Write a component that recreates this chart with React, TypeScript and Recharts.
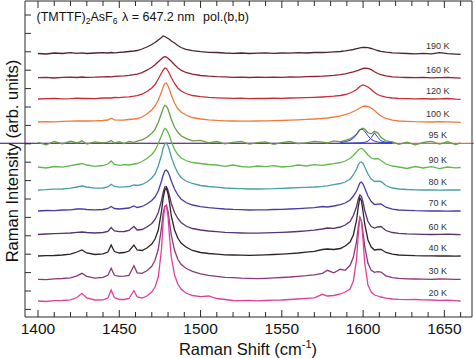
import React from 'react';
import { LineChart, Line, XAxis, YAxis, ReferenceDot, ReferenceLine } from 'recharts';

// Raman spectra of (TMTTF)2AsF6, stacked by temperature. Values are read off the
// picture as height above each spectrum's own baseline.

const X = [
  1400, 1405, 1410, 1415, 1420, 1424, 1427, 1430, 1435, 1440,
  1443, 1445, 1447, 1450, 1453, 1456, 1459, 1461, 1464, 1467,
  1470, 1472, 1474, 1476, 1477, 1478, 1479, 1480, 1481, 1482,
  1484, 1486, 1488, 1491, 1495, 1500, 1505, 1510, 1515, 1520,
  1525, 1530, 1535, 1540, 1545, 1550, 1555, 1560, 1565, 1570,
  1575, 1578, 1582, 1586, 1589, 1592, 1594, 1596, 1597, 1598,
  1599, 1600, 1601, 1603, 1605, 1607, 1609, 1611, 1614, 1618,
  1622, 1627, 1632, 1637, 1642, 1647, 1652, 1657, 1660,
];

const TEMPS = ['190 K', '160 K', '120 K', '100 K', '95 K', '90 K', '80 K', '70 K', '60 K', '40 K', '30 K', '20 K'];
const OFFSETS = [263.5, 239.3, 218, 195, 173.7, 149.5, 127, 106, 82.5, 61, 37.7, 16];
const COLORS = [
  '#4a2530', '#8c2433', '#c92c38', '#ef7a3c', '#6a9a4a', '#62b84c',
  '#4a9ea6', '#4b3aa5', '#5a3470', '#2e2226', '#8a3a78', '#e0409a',
];

const I190 = [
  0, -0.5, 0.5, 0, 0.8, 0.2, 0.6, 0, 0.5, 0.8,
  0.5, 1, 0.6, 1.2, 1.5, 2, 2.5, 3, 4.5, 6.5,
  9, 11, 13.5, 16, 17.5, 17, 16, 15, 14, 12.5,
  10.5, 8, 6, 4.2, 2.8, 1.8, 1.2, 1, 0.5, 0.2,
  0.5, 0, 0.3, 0.6, 0.2, 0.5, 0.3, 0.8, 0.5, 1,
  1, 1.2, 1.6, 2, 2.6, 3.4, 4, 4.8, 5.2, 5.6,
  5.8, 6, 6, 5.8, 5, 4, 3, 2.2, 1.4, 0.6,
  0.3, 0, -0.3, 0.2, -0.4, 0.8, -0.2, -0.6, -0.8,
];
const I160 = [
  0, 0.4, -0.3, 0.3, 0.5, 0.2, 0.7, 0.3, 0.5, 0.9,
  1, 0.8, 1.3, 1.5, 1.8, 2.3, 3, 3.6, 5, 7.5,
  10.5, 13, 16, 19, 20.3, 21, 20.5, 19.5, 18, 16.5,
  13, 10, 7.5, 5.2, 3.5, 2.2, 1.5, 1, 0.8, 0.4,
  0.6, 0.2, 0.5, 0.3, 0.6, 0.4, 0.8, 0.6, 1, 1.2,
  1.5, 1.8, 2.3, 3, 3.8, 5, 5.8, 6.8, 7.4, 8,
  8.6, 9.2, 9.5, 9.3, 8, 6, 4.2, 3, 1.8, 0.9,
  0.5, 0.2, 0, 0.3, -0.2, 0, 0.3, -0.2, -0.5,
];
const I120 = [
  0, 0.3, 0.6, 0.2, 0.4, 0.8, 0.5, 0.7, 0.4, 1,
  1.2, 1, 1.5, 1.3, 1.8, 2.2, 2.8, 3.4, 4.8, 7.5,
  11, 14.5, 20, 26, 29, 31, 30.5, 28, 25, 21.5,
  15.5, 11, 8, 5.5, 3.5, 2.3, 1.6, 1.2, 0.9, 0.6,
  0.8, 0.4, 0.6, 0.5, 0.8, 0.6, 1, 1.1, 1.3, 1.6,
  2, 2.3, 2.8, 3.5, 4.5, 6, 7.5, 9.5, 11, 12.5,
  13.5, 14, 13.5, 12, 9.5, 6.5, 4.5, 3, 1.8, 1,
  0.6, 0.4, 0.1, 0.4, 0, 0.2, 0.5, -0.1, -0.3,
];
const I100 = [
  0, 0.4, 0.2, 0.6, 0.8, 1, 1.2, 1, 1.2, 1.5,
  2, 3.8, 2.2, 1.8, 2, 2.5, 3, 3.5, 5, 8,
  12, 16, 22, 30, 35, 38.5, 39, 36, 32, 27,
  19, 13.5, 10, 7, 4.5, 3, 2.2, 1.6, 1.2, 1,
  0.9, 0.8, 1, 1.1, 1.3, 1.5, 1.8, 2.2, 2.6, 3,
  3.6, 4, 5, 6.2, 7.4, 9, 10.5, 12, 13, 14,
  15, 15.7, 16, 15.5, 14, 11.5, 8.5, 6, 3.5, 1.8,
  1, 0.6, 0.3, 0.2, 0, 0.3, 0.1, -0.2, -0.3,
];
const I95 = [
  1, -1.5, 1.8, -0.5, 2, 0.3, 2.5, -0.8, 1.5, 0.5,
  1.2, 2.8, 0.2, 1.5, -0.3, 1.8, 1, 2.2, 3.5, 6,
  10, 14, 21, 30, 35, 38, 37, 34, 29, 24,
  16, 11, 7.5, 5, 2.5, 3, 0.5, 1.8, -0.5, 1,
  2, -0.8, 0.7, 1.5, -1, 0.6, 1.8, -0.3, 0.5, 2,
  1.2, 0.3, 2.5, 1.5, 3, 4.5, 6.5, 9, 11.5, 13.5,
  14.5, 15, 14, 10.5, 9.5, 12, 10.5, 6, 2.5, 1.5,
  -1, 1.2, -1.5, 0.8, 2, -0.8, 1.5, -1.2, 0.5,
];
const I90 = [
  0.5, -0.5, 1, 0.3, 1.8, 3, 4, 2.5, 1.2, 2,
  3.5, 6.5, 3, 2.2, 2.8, 2.5, 3.5, 4, 6, 9,
  13, 17, 24, 32, 36, 39, 38, 35, 31, 26,
  18, 13, 9.5, 7, 5, 4, 3, 2.5, 1.2, 2.5,
  1, 0.3, 1.5, 0.8, 1.8, 0.5, 1.2, 2.5, 1.5, 2.8,
  2.2, 3, 3.8, 5, 6.5, 9, 12, 15.5, 17.5, 18.5,
  19, 18, 16.5, 12.5, 9.5, 8.5, 9, 7, 3.5, 1.5,
  0.5, -1, 1, -0.5, 0.8, -1.2, 0.5, -0.3, 0,
];
const I80 = [
  0, 0.3, 0.8, 1, 1.8, 3, 4, 3, 1.8, 2,
  3, 5.7, 3.5, 2.8, 3.2, 3.5, 5, 4.5, 5.5, 8,
  12, 16, 24, 35, 42, 46, 47, 44, 39, 33,
  24, 17, 12.5, 9, 6.5, 4.5, 3.5, 2.8, 2, 1.6,
  1.3, 1, 1, 1.2, 1.3, 1.6, 2, 2.3, 2.6, 3,
  3.6, 4.2, 5.3, 6.5, 8, 11, 15, 21, 25, 27.5,
  28, 26.5, 23, 16, 11, 8.5, 8.8, 8.5, 4.5, 2,
  1, 0.5, 0.2, 0, 0.2, -0.2, 0, 0.2, 0,
];
const I70 = [
  0, 0.5, 0.3, 1, 1.2, 2, 2.2, 1.5, 1.2, 1.5,
  2.5, 4.5, 2.5, 2, 2.5, 3, 5, 3.5, 4.5, 7,
  10.5, 14, 20, 30, 36, 40, 41, 39, 35, 30,
  22, 16, 12, 8.5, 6, 4.3, 3.3, 2.7, 2, 1.6,
  1.4, 1, 1.2, 1.1, 1.5, 1.7, 2, 2.4, 2.8, 3.3,
  4.5, 4, 5, 6.3, 8, 11, 15, 20, 24, 28,
  29, 27, 23, 15, 9.5, 6.5, 6.8, 7, 3.8, 1.8,
  1, 0.6, 0.3, 0.2, 0, 0.2, -0.1, 0.1, 0,
];
const I60 = [
  0, 0.5, 0.8, 1.2, 1.5, 2.2, 2.5, 2, 1.5, 2,
  3, 7, 3.5, 2.8, 3, 4, 8, 4.5, 5, 7.5,
  11, 15, 22, 34, 42, 47.5, 48, 44, 38, 31,
  22, 16, 12, 8.5, 6, 4.5, 3.5, 2.8, 2.2, 1.8,
  1.5, 1.3, 1.4, 1.6, 1.8, 2.1, 2.5, 3, 3.6, 4.3,
  5.5, 6.5, 6.2, 7.5, 9.5, 13, 19, 28, 35, 39.5,
  38, 32, 24, 13, 8, 6.5, 7.5, 8, 4, 2,
  1.2, 0.6, 0.4, 0.2, 0, 0.1, 0.3, 0, -0.2,
];
const I40 = [
  0, 0.3, 0.5, 1, 1.8, 4, 6, 3, 1.5, 2.2,
  4, 11, 4.5, 3, 3.5, 5, 11, 6, 5.5, 8,
  12, 17, 26, 45, 58, 66, 68, 62, 52, 40,
  26, 18, 13, 9, 5.5, 3.5, 2.5, 1.8, 1.2, 1,
  0.8, 0.7, 0.9, 1.2, 1.5, 1.9, 2.4, 3, 3.8, 4.6,
  6.5, 7, 6.5, 7.5, 10, 14, 21, 36, 49, 58,
  55, 44, 32, 16, 9, 6, 6.5, 6.7, 3.5, 1.8,
  1, 0.6, 0.3, 0.2, 0.1, 0, 0.2, -0.1, 0,
];
const I30 = [
  0, -0.3, 0.5, 0.8, 1.5, 3.5, 6, 3, 1.2, 2,
  4, 11, 4, 3, 3.2, 4, 13.5, 6.5, 6, 8.5,
  13, 19, 30, 52, 66, 73, 74, 68, 56, 44,
  29, 20, 15, 11, 8, 5.5, 4, 3, 2, 1.6,
  1.2, 1, 0.6, 1, 1.4, 1.8, 2.3, 3, 3.6, 4.5,
  6, 9, 6.5, 10, 9, 14, 22, 38, 52, 62,
  58, 46, 33, 16, 9, 7, 7.6, 7.2, 3.5, 1.6,
  1, 0.5, 0.3, 0.2, 0, 0.3, 0.1, 0, 0,
];
const I20 = [
  0, -0.5, 0.3, 0.5, 1.2, 3.5, 7.7, 3, 1, 1.2,
  3, 11, 3.5, 1.5, 1.5, 2.5, 10.5, 4, 3, 5,
  9, 14, 24, 52, 80, 94, 96, 84, 62, 44,
  26, 17, 12, 8, 5.5, 4.3, 5, 2.5, 1.5, 0.5,
  0.3, 0.6, 0.2, 0.5, 0.8, 1, 1.5, 2, 2.6, 3.2,
  6.7, 5, 5.5, 7, 9, 12, 20, 42, 66, 84,
  80, 60, 38, 16, 9, 6, 5, 4, 2.8, 2,
  1.6, 1.4, 1.5, 1.2, 1, 0.6, 0.8, 0.4, 0,
];
const SPECTRA = [I190, I160, I120, I100, I95, I90, I80, I70, I60, I40, I30, I20];

// fitted Lorentzian components of the 95 K spectrum
const BLUE_X = [1586, 1589, 1592, 1594, 1596, 1597, 1598, 1599, 1600, 1601, 1603, 1605, 1607, 1609, 1611, 1614, 1618];
const BLUE_A = [0.8, 1.5, 3, 5, 9, 11.5, 13.5, 14, 13.5, 12, 7.5, 4, 2.2, 1.3, 0.8, 0.4, 0.2];
const BLUE_B = [0, 0.1, 0.2, 0.3, 0.4, 0.5, 0.6, 0.7, 0.8, 1, 2.2, 5.5, 10.5, 6, 2.5, 1, 0.4];

const X_TICKS = [
  1400, 1410, 1420, 1430, 1440, 1450, 1460, 1470, 1480, 1490, 1500, 1510, 1520, 1530,
  1540, 1550, 1560, 1570, 1580, 1590, 1600, 1610, 1620, 1630, 1640, 1650, 1660,
];
const Y_TICKS = [7.6, 26, 44.4, 62.8, 81.2, 99.6, 118, 136.4, 154.8, 173.2, 191.6, 210, 228.4, 246.8, 265.2, 283.6, 302];

const AXIS = '#2a2a2a';
const FONT = '"Liberation Sans", Arial, Helvetica, sans-serif';

const data = X.map((x, i) => {
  const row: Record<string, number | null> = { x };
  SPECTRA.forEach((s, k) => {
    row['s' + k] = OFFSETS[k] + s[i];
  });
  const j = BLUE_X.indexOf(x);
  row.ba = j >= 0 ? OFFSETS[4] + BLUE_A[j] : null;
  row.bb = j >= 0 ? OFFSETS[4] + BLUE_B[j] : null;
  return row;
});

const BottomTick = (p: any) => {
  const v = p.payload.value;
  const major = v % 50 === 0;
  return (
    <g>
      <line x1={p.x} x2={p.x} y1={p.y} y2={p.y - (major ? 7 : 5)} stroke={AXIS} />
      {major && (
        <text x={p.x} y={p.y + 17} textAnchor="middle" fontSize={15.5} fill="#111">
          {v}
        </text>
      )}
    </g>
  );
};

const TopTick = (p: any) => {
  const major = p.payload.value % 50 === 0;
  return <line x1={p.x} x2={p.x} y1={p.y} y2={p.y + (major ? 7 : 5)} stroke={AXIS} />;
};

const LeftTick = (p: any) => <line x1={p.x} x2={p.x + 6} y1={p.y} y2={p.y} stroke={AXIS} />;
const RightTick = (p: any) => <line x1={p.x} x2={p.x - 6} y1={p.y} y2={p.y} stroke={AXIS} />;

export default function App() {
  return (
    <div style={{ position: 'fixed', left: 0, top: 0, width: 474, height: 358, fontFamily: FONT, background: '#fff' }}>
      <LineChart width={474} height={358} data={data} margin={{ top: 0, right: 1, bottom: 40, left: 24 }}>
        <XAxis
          dataKey="x"
          type="number"
          domain={[1392, 1667]}
          ticks={X_TICKS}
          interval={0}
          height={1}
          tickSize={0}
          tickMargin={0}
          tickLine={false}
          tick={BottomTick}
          axisLine={{ stroke: AXIS }}
        />
        <XAxis
          xAxisId="top"
          orientation="top"
          dataKey="x"
          type="number"
          domain={[1392, 1667]}
          ticks={X_TICKS}
          interval={0}
          height={1}
          tickSize={0}
          tickMargin={0}
          tickLine={false}
          tick={TopTick}
          axisLine={{ stroke: AXIS }}
        />
        <YAxis
          type="number"
          domain={[0, 316]}
          ticks={Y_TICKS}
          interval={0}
          width={1}
          tickSize={0}
          tickMargin={0}
          tickLine={false}
          tick={LeftTick}
          axisLine={{ stroke: AXIS }}
        />
        <YAxis
          yAxisId="R"
          orientation="right"
          type="number"
          domain={[0, 316]}
          ticks={Y_TICKS}
          interval={0}
          width={1}
          tickSize={0}
          tickMargin={0}
          tickLine={false}
          tick={RightTick}
          axisLine={{ stroke: AXIS }}
        />
        <ReferenceLine
          segment={[{ x: 1376, y: OFFSETS[4] }, { x: 1669, y: OFFSETS[4] }]}
          stroke="#d04848"
          strokeWidth={1}
          ifOverflow="visible"
        />
        <ReferenceLine
          segment={[{ x: 1376, y: OFFSETS[4] }, { x: 1618, y: OFFSETS[4] }]}
          stroke="#2a3de0"
          strokeWidth={1}
          ifOverflow="visible"
        />
        {SPECTRA.map((_, k) => (
          <Line
            key={TEMPS[k]}
            dataKey={'s' + k}
            type="linear"
            stroke={COLORS[k]}
            strokeWidth={1.3}
            dot={false}
            isAnimationActive={false}
          />
        ))}
        <Line dataKey="ba" type="linear" stroke="#2a3de0" strokeWidth={1} dot={false} isAnimationActive={false} />
        <Line dataKey="bb" type="linear" stroke="#2a3de0" strokeWidth={1} dot={false} isAnimationActive={false} />
        {TEMPS.map((t, k) => (
          <ReferenceDot
            key={'lbl' + t}
            x={1646}
            y={OFFSETS[k] + 8}
            r={0}
            fill="none"
            stroke="none"
            ifOverflow="visible"
            label={{ value: t, position: 'center', fontSize: 9, fill: '#333' }}
          />
        ))}
      </LineChart>
      <svg width={474} height={358} style={{ position: 'absolute', left: 0, top: 0, pointerEvents: 'none' }}>
        <text x={36.5} y={20.5} fontSize={12.5} fill="#111">
          (TMTTF)<tspan fontSize={8.5} dy={3}>2</tspan>
          <tspan dy={-3}>AsF</tspan>
          <tspan fontSize={8.5} dy={3}>6</tspan>
        </text>
        <text x={122} y={20.5} fontSize={12.5} fill="#111">λ = 647.2 nm</text>
        <text x={203} y={20.5} fontSize={12.5} fill="#111">pol.(b,b)</text>
        <text x={248} y={355} fontSize={16.5} textAnchor="middle" fill="#111">
          Raman Shift (cm<tspan fontSize={11} dy={-7}>-1</tspan>
          <tspan dy={7}>)</tspan>
        </text>
        <text transform="translate(18,161) rotate(-90)" fontSize={16.5} textAnchor="middle" fill="#111">
          Raman Intensity (arb. units)
        </text>
      </svg>
    </div>
  );
}
